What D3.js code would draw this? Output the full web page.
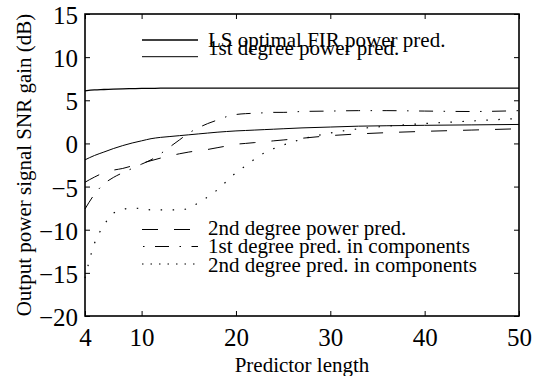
<!DOCTYPE html>
<html>
<head>
<meta charset="utf-8">
<script src="https://cdn.jsdelivr.net/npm/d3@7"></script>
<style>
  body { margin: 0; background: #fff; }
  svg { display: block; font-family: "Liberation Serif", "Times New Roman", serif; }
</style>
</head>
<body>
<svg width="538" height="376"></svg>
<script>
let svg = d3.select("svg");

let lengths = [4, 5, 6, 7, 8, 9, 10, 11, 12, 13, 14, 15, 16, 17, 18, 19, 20,
  21, 22, 23, 24, 25, 27, 30, 33, 36, 40, 45, 50];

let ls_fir = [6.1, 6.2, 6.25, 6.3, 6.33, 6.35, 6.37, 6.38, 6.4, 6.4, 6.4, 6.4, 6.4, 6.4, 6.4, 6.4, 6.4,
  6.4, 6.4, 6.4, 6.4, 6.4, 6.4, 6.4, 6.4, 6.4, 6.4, 6.4, 6.4];
let first_power = [-1.9, -1.4, -1.0, -0.6, -0.25, 0.05, 0.3, 0.55, 0.7, 0.8, 0.9, 1.0, 1.1, 1.2, 1.3, 1.38, 1.45,
  1.5, 1.55, 1.6, 1.65, 1.7, 1.8, 1.9, 2.0, 2.05, 2.1, 2.15, 2.2];
let second_power = [-4.5, -3.9, -3.4, -3.1, -2.9, -2.6, -2.3, -2.0, -1.7, -1.45, -1.2, -1.0, -0.85, -0.7, -0.5, -0.3, -0.1,
  0.0, 0.1, 0.2, 0.3, 0.4, 0.6, 0.9, 1.1, 1.25, 1.4, 1.55, 1.7];
let first_comp = [-7.6, -5.9, -4.7, -3.95, -3.4, -2.9, -2.4, -1.9, -1.2, -0.4, 0.4, 1.2, 1.8, 2.3, 2.7, 3.1, 3.35,
  3.45, 3.5, 3.55, 3.6, 3.6, 3.7, 3.75, 3.8, 3.8, 3.75, 3.7, 3.8];
let second_comp = [-15.6, -11.6, -9.5, -8.1, -7.65, -7.5, -7.55, -7.7, -7.7, -7.7, -7.7, -7.5, -6.9, -6.2, -5.4, -4.4, -3.4,
  -2.6, -1.8, -1.1, -0.6, -0.2, 0.5, 1.2, 1.7, 2.0, 2.3, 2.6, 2.9];

let x_ticks = [4, 10, 20, 30, 40, 50];
let y_ticks = [15, 10, 5, 0, -5, -10, -15, -20];

let names = ["LS optimal FIR power pred.", "1st degree power pred.", "2nd degree power pred.",
  "1st degree pred. in components", "2nd degree pred. in components"];
let values = [ls_fir, first_power, second_power, first_comp, second_comp];

// line styles per series (same order as names)
let styles = [
  { width: 1.3, dash: null, legend_dash: null, offset: 0 },
  { width: 1, dash: null, legend_dash: null, offset: 0 },
  { width: 1, dash: "16,16", legend_dash: "16,16", offset: 0 },
  { width: 1, dash: "14,10.5,1.5,10.5", legend_dash: "14,10.5,1.5,10.5", offset: 23.5 },
  { width: 1.2, dash: "1.5,10.5", legend_dash: "1.5,7", offset: 0 },
];

let plot_left = 85, plot_right = 519, plot_top = 14, plot_bottom = 316;

let x = d3.scaleLinear().domain([4, 50]).range([plot_left, plot_right]);
let y = d3.scaleLinear().domain([-20, 15]).range([plot_bottom, plot_top]);

// axes: ticks point inward on all four sides
let axes = svg.append("g").attr("class", "axes");

axes.append("g")
  .attr("transform", "translate(0," + plot_bottom + ")")
  .call(d3.axisBottom(x).tickValues(x_ticks).tickSize(-5).tickPadding(12))
  .call(g => g.selectAll("text").attr("dy", "0.71em"));
axes.append("g")
  .attr("transform", "translate(0," + plot_top + ")")
  .call(d3.axisTop(x).tickValues(x_ticks).tickSize(-5).tickFormat(""));
axes.append("g")
  .attr("transform", "translate(" + plot_left + ",0)")
  .call(d3.axisLeft(y).tickValues(y_ticks).tickSize(-5).tickPadding(7))
  .call(g => g.selectAll("text").attr("dy", "0.38em"));
axes.append("g")
  .attr("transform", "translate(" + plot_right + ",0)")
  .call(d3.axisRight(y).tickValues(y_ticks).tickSize(-5).tickFormat(""));

axes.selectAll(".domain").remove();
axes.selectAll(".tick line").attr("stroke", "#000").attr("stroke-width", 1);
axes.selectAll(".tick text")
  .attr("fill", "#000")
  .style("font-family", "Liberation Serif")
  .style("font-size", "25px");

// curves
let line = d3.line()
  .x((d, i) => x(lengths[i]))
  .y(d => y(d))
  .curve(d3.curveMonotoneX);

svg.append("g")
  .attr("class", "curves")
  .selectAll("path")
  .data(values)
  .enter().append("path")
    .attr("d", line)
    .attr("fill", "none")
    .attr("stroke", "#000")
    .attr("stroke-width", (d, i) => styles[i].width)
    .attr("stroke-dasharray", (d, i) => styles[i].dash);

// frame
svg.append("rect")
  .attr("x", plot_left)
  .attr("y", plot_top)
  .attr("width", plot_right - plot_left)
  .attr("height", plot_bottom - plot_top)
  .attr("fill", "none")
  .attr("stroke", "#000")
  .attr("stroke-width", 1.6);

// legends: two upper entries, three lower entries
let legend_rows = [
  { line_y: 40, text_y: 46.5 },
  { line_y: 56.7, text_y: 54.5 },
  { line_y: 229.5, text_y: 235 },
  { line_y: 246.5, text_y: 253 },
  { line_y: 264, text_y: 271.5 },
];

let legend = svg.append("g").attr("class", "legend")
  .selectAll("g")
  .data(names)
  .enter().append("g");

legend.append("line")
  .attr("x1", 142)
  .attr("x2", 198)
  .attr("y1", (d, i) => legend_rows[i].line_y)
  .attr("y2", (d, i) => legend_rows[i].line_y)
  .attr("stroke", "#000")
  .attr("stroke-width", (d, i) => styles[i].width)
  .attr("stroke-dasharray", (d, i) => styles[i].legend_dash)
  .attr("stroke-dashoffset", (d, i) => styles[i].offset);

legend.append("text")
  .attr("x", 208)
  .attr("y", (d, i) => legend_rows[i].text_y)
  .style("font-size", "21px")
  .attr("fill", "#000")
  .text(d => d);

// axis titles
svg.append("text")
  .attr("x", (plot_left + plot_right) / 2)
  .attr("y", 372)
  .attr("text-anchor", "middle")
  .style("font-size", "21px")
  .text("Predictor length");

svg.append("text")
  .attr("transform", "translate(31," + ((plot_top + plot_bottom) / 2) + ") rotate(-90)")
  .attr("text-anchor", "middle")
  .style("font-size", "21px")
  .text("Output power signal SNR gain (dB)");
</script>
</body>
</html>
